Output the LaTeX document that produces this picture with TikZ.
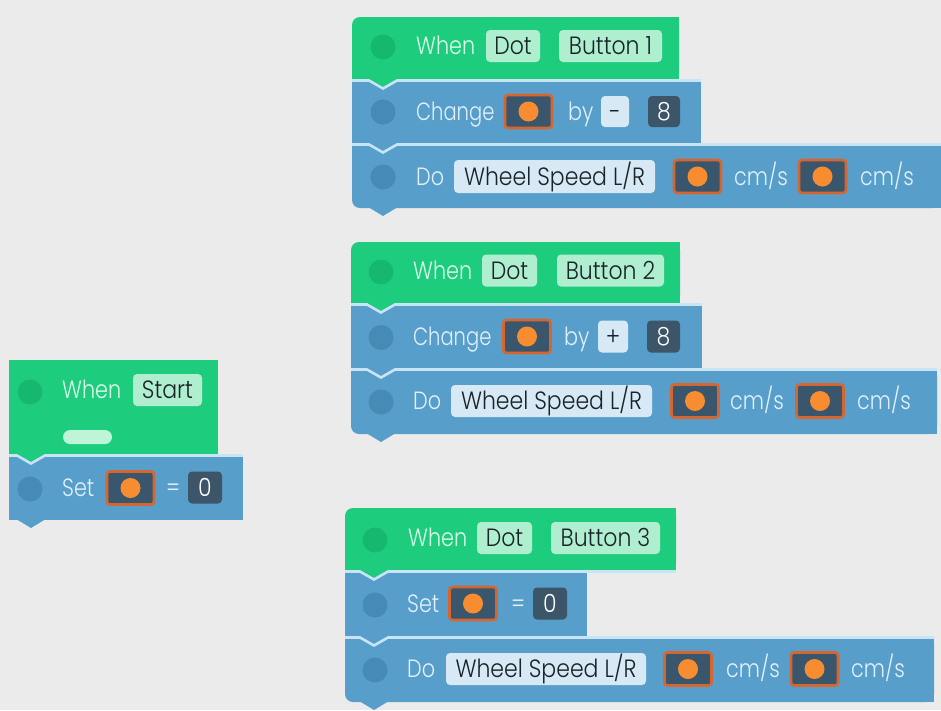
\documentclass[tikz,border=0pt]{standalone}
\usepackage{fontspec}
\newfontfamily\uifont{Poppins Light}[FakeStretch=0.83]
\newfontfamily\uifontn{Poppins Light}[FakeStretch=0.78]
\newfontfamily\chipfont{Poppins Light}[FakeStretch=0.88]
\definecolor{bgc}{RGB}{235,235,235}
\definecolor{gfill}{RGB}{30,204,126}
\definecolor{gcirc}{RGB}{22,183,110}
\definecolor{mint}{RGB}{176,238,208}
\definecolor{pillc}{RGB}{190,245,216}
\definecolor{gtext}{RGB}{220,252,236}
\definecolor{bfill}{RGB}{88,158,202}
\definecolor{bcirc}{RGB}{70,138,182}
\definecolor{sepc}{RGB}{200,228,245}
\definecolor{btext}{RGB}{225,240,250}
\definecolor{lchip}{RGB}{214,233,244}
\definecolor{dchip}{RGB}{60,85,105}
\definecolor{dtext}{RGB}{25,35,40}
\definecolor{vborder}{RGB}{214,102,48}
\definecolor{vfill}{RGB}{58,86,108}
\definecolor{vdotc}{RGB}{247,140,48}
\newcommand\TopRow[5]{%
  \fill[#1,rounded corners=8pt] (#2,#3) rectangle (#4,#5);
  \fill[#1] (#2+10,#3) rectangle (#4,#5);
  \fill[#1] (#2,#3+10) rectangle (#4,#5);}
\newcommand\BotRow[5]{%
  \fill[#1,rounded corners=8pt] (#2,#3) rectangle (#4,#5);
  \fill[#1] (#2,#3) rectangle (#4,#5-10);
  \fill[#1] (#2+10,#3) rectangle (#4,#5);}
\newcommand\TabV[3]{\fill[#1] (#2-14,#3-0.5) -- (#2,#3+8) -- (#2+14,#3-0.5) -- cycle;}
\newcommand\SepV[4]{\draw[sepline] (#1,#2) -- (#3-14,#2) -- (#3,#2+8) -- (#3+14,#2) -- (#4,#2);}
\newcommand\VarChip[3]{\node[varbox] (#1) at (#2,#3) {}; \node[vdotst] (#1d) at (#1.center) {};}
\begin{document}
\begin{tikzpicture}[x=1pt,y=-1pt,
  lbl/.style={anchor=west, inner sep=0pt, text height=17.4pt, text depth=0pt, font=\uifont\fontsize{25}{26}\selectfont},
  narrow/.style={font=\uifontn\fontsize{25}{26}\selectfont},
  gt/.style={lbl, text=gtext},
  bt/.style={lbl, text=btext},
  chip/.style={rectangle, rounded corners=4pt, inner sep=0pt, minimum height=32pt, text height=17.4pt, text depth=0pt, font=\chipfont\fontsize{25}{26}\selectfont},
  mintchip/.style={chip, fill=mint, text=dtext},
  lightchip/.style={chip, fill=lchip, text=dtext},
  darkchip/.style={chip, fill=dchip, text=white},
  varbox/.style={rectangle, rounded corners=3pt, draw=vborder, line width=2.6pt, fill=vfill, minimum width=47pt, minimum height=33pt, inner sep=0pt},
  vdotst/.style={circle, fill=vdotc, minimum size=20pt, inner sep=0pt},
  gdot/.style={circle, fill=gcirc, minimum size=25pt, inner sep=0pt},
  bdot/.style={circle, fill=bcirc, minimum size=25pt, inner sep=0pt},
  pill/.style={rectangle, rounded corners=7pt, fill=pillc, minimum width=49pt, minimum height=14pt, inner sep=0pt},
  sepline/.style={draw=sepc, line width=2.6pt, line join=miter}]
\useasboundingbox (0,0) rectangle (941,710);
\fill[bgc] (0,0) rectangle (941,710);

% ---------- Block 1 ----------
\BotRow{bfill}{352}{143}{941}{208}
\TabV{bfill}{383}{208}
\fill[bfill] (352,79) rectangle (701,143);
\TabV{bfill}{383}{143}
\TopRow{gfill}{352}{17}{679}{79}
\TabV{gfill}{383}{79}
\SepV{352}{80.5}{383}{701}
\SepV{352}{144.5}{383}{941}
\node[gdot] (b1c1) at (383,47) {};
\node[gt] (b1when) at (416,46) {When};
\node[mintchip, minimum width=54pt] (b1dot) at (513,46) {Dot};
\node[mintchip, minimum width=103pt] (b1btn) at (610.5,46) {Button 1};
\node[bdot] (b1c2) at (383,112) {};
\node[bt, narrow] (b1chg) at (416,111.5) {Change};
\VarChip{b1v1}{528.5}{111.5}
\node[bt] (b1by) at (568,111.5) {by};
\node[lightchip, minimum width=28pt, minimum height=31pt] (b1minus) at (615,111.5) {-};
\node[darkchip, minimum width=32pt, minimum height=31pt] (b1eight) at (664,111.5) {8};
\node[bdot] (b1c3) at (383,177) {};
\node[bt] (b1do) at (416,176.5) {Do};
\node[lightchip, minimum width=201pt, minimum height=33pt] (b1wheel) at (554.5,176.5) {Wheel Speed L/R};
\VarChip{b1v2}{697.5}{176.5}
\node[bt] (b1cm1) at (734,176.5) {cm/s};
\VarChip{b1v3}{822.5}{176.5}
\node[bt] (b1cm2) at (860,176.5) {cm/s};

% ---------- Block 2 ----------
\BotRow{bfill}{351}{368}{937}{434}
\TabV{bfill}{381}{434}
\fill[bfill] (351,303) rectangle (702,368);
\TabV{bfill}{381}{368}
\TopRow{gfill}{351}{242}{680}{303}
\TabV{gfill}{381}{303}
\SepV{351}{304.5}{381}{702}
\SepV{351}{369.5}{381}{937}
\node[gdot] (b2c1) at (381,272) {};
\node[gt] (b2when) at (413,270.5) {When};
\node[mintchip, minimum width=55pt] (b2dot) at (509.5,270.5) {Dot};
\node[mintchip, minimum width=107pt] (b2btn) at (610.5,270.5) {Button 2};
\node[bdot] (b2c2) at (381,337.5) {};
\node[bt, narrow] (b2chg) at (413,336.5) {Change};
\VarChip{b2v1}{527}{336.5}
\node[bt] (b2by) at (564,336.5) {by};
\node[lightchip, minimum width=30pt, minimum height=32pt] (b2plus) at (613,336.5) {+};
\node[darkchip, minimum width=33pt, minimum height=32pt] (b2eight) at (663.5,336.5) {8};
\node[bdot] (b2c3) at (381,402) {};
\node[bt] (b2do) at (413,401) {Do};
\node[lightchip, minimum width=201pt, minimum height=32pt] (b2wheel) at (551.5,401) {Wheel Speed L/R};
\VarChip{b2v2}{695}{401}
\node[bt] (b2cm1) at (730,401) {cm/s};
\VarChip{b2v3}{820}{401}
\node[bt] (b2cm2) at (857,401) {cm/s};

% ---------- Start block ----------
\fill[bfill] (9,454) rectangle (243,520);
\TabV{bfill}{31}{520}
\fill[gfill] (9,360) rectangle (218,454);
\TabV{gfill}{31}{454}
\SepV{9}{455.5}{31}{243}
\node[gdot] (sc1) at (30,392) {};
\node[gt] (swhen) at (62,390) {When};
\node[mintchip, minimum width=69pt] (sstart) at (167.5,390) {Start};
\node[pill] (spill) at (87.5,437) {};
\node[bdot] (sc2) at (30,489) {};
\node[bt] (sset) at (62,488) {Set};
\VarChip{sv}{130.5}{488}
\node[bt] (seq) at (166,488) {=};
\node[darkchip, minimum width=34pt, minimum height=32pt] (szero) at (205,487.5) {0};

% ---------- Block 3 ----------
\BotRow{bfill}{345}{636}{934}{702}
\TabV{bfill}{374}{702}
\fill[bfill] (345,570) rectangle (587,636);
\TabV{bfill}{374}{636}
\TopRow{gfill}{345}{508}{676}{570}
\TabV{gfill}{374}{570}
\SepV{345}{571.5}{374}{676}
\SepV{345}{637.5}{374}{934}
\node[gdot] (b3c1) at (375,540) {};
\node[gt] (b3when) at (408,538) {When};
\node[mintchip, minimum width=55pt] (b3dot) at (504.5,538) {Dot};
\node[mintchip, minimum width=109pt] (b3btn) at (605.5,538) {Button 3};
\node[bdot] (b3c2) at (375,605) {};
\node[bt] (b3set) at (407,603.5) {Set};
\VarChip{b3v1}{473}{603.5}
\node[bt] (b3eq) at (511,603.5) {=};
\node[darkchip, minimum width=34pt, minimum height=32pt] (b3zero) at (550,603.5) {0};
\node[bdot] (b3c3) at (375,670) {};
\node[bt] (b3do) at (407,669) {Do};
\node[lightchip, minimum width=200pt, minimum height=32pt] (b3wheel) at (546,669) {Wheel Speed L/R};
\VarChip{b3v2}{688}{669}
\node[bt] (b3cm1) at (726,669) {cm/s};
\VarChip{b3v3}{814.5}{669}
\node[bt] (b3cm2) at (851,669) {cm/s};
\end{tikzpicture}
\end{document}
